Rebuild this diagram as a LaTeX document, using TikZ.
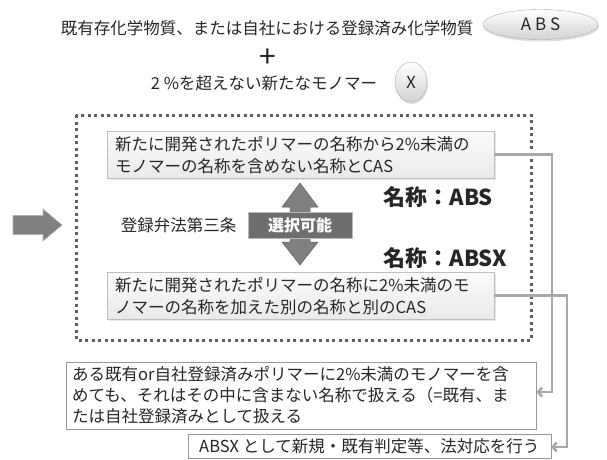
\documentclass[tikz,border=0pt]{standalone}
\usepackage{fontspec}
\setmainfont{Noto Sans CJK JP}
\usetikzlibrary{arrows.meta,shadows,calc,shapes.geometric}
\definecolor{txt}{HTML}{262626}
\definecolor{dotc}{HTML}{5F5F5F}
\definecolor{arrg}{HTML}{808080}
\definecolor{selg}{HTML}{6E6E6E}
\definecolor{conng}{HTML}{A8A8A8}
\begin{document}
\begin{tikzpicture}[x=1pt,y=-1pt,
  every node/.style={text=txt, font=\fontsize{16.5}{22}\selectfont},
  ovalnode/.style={ellipse, draw=gray!65, top color=white, bottom color=gray!35,
    drop shadow={opacity=0.25, shadow xshift=1pt, shadow yshift=-2pt}, inner sep=0pt},
  gbox/.style={draw=gray!50, top color=gray!3, bottom color=gray!17,
    drop shadow={opacity=0.2, shadow xshift=1.5pt, shadow yshift=-1.5pt},
    anchor=north west, minimum width=387pt, minimum height=47pt,
    text width=371pt, inner xsep=8pt, inner ysep=2pt, align=left},
  wbox/.style={draw=gray!80, fill=white, align=left, inner xsep=6pt, inner ysep=2pt},
  conn/.style={draw=conng, line width=2.5pt, -{Straight Barb[length=4pt,width=9pt]}},
  namestyle/.style={anchor=west, font=\fontsize{22}{24}\selectfont\bfseries},
]
\useasboundingbox (0,0) rectangle (607,459);

% top lines
\node (t1) at (267,28) {既有存化学物質、または自社における登録済み化学物質};
\node[ovalnode, minimum width=115pt, minimum height=30pt] (abs) at (540.5,24.5) {\fontsize{17}{17}\selectfont A B S};
\node (plus) at (268,58) {\fontsize{30}{30}\selectfont +};
\node (t2) at (264,83) {2 \%を超えない新たなモノマー};
\node[ovalnode, minimum width=32pt, minimum height=40pt] (x) at (411,82) {X};

% dotted frame
\draw[dotc, line width=3pt, dash pattern=on 3pt off 3.5pt] (76,115) rectangle (531,340);

% left arrow
\filldraw[fill=arrg, draw=gray!60, line width=0.6pt]
  (13,215.5) -- (43,215.5) -- (43,209) -- (62,225) -- (43,241) -- (43,234.5) -- (13,234.5) -- cycle;

% boxes
\node[gbox] (b1) at (107,131) {新たに開発されたポリマーの名称から2\%未満の\\モノマーの名称を含めない名称とCAS};
\node[gbox] (b2) at (107,272) {新たに開発されたポリマーの名称に2\%未満のモ\\ノマーの名称を加えた別の名称と別のCAS};

% double arrow
\filldraw[fill=arrg, draw=gray!75!black, line width=0.5pt]
  (300,183) -- (318,207) -- (310,207) -- (310,242) -- (318,242) -- (300,265)
  -- (282,242) -- (290,242) -- (290,207) -- (282,207) -- cycle;
\node[fill=selg, draw=gray!55, line width=0.8pt, minimum width=104pt, minimum height=26pt, inner sep=0pt,
  font=\fontsize{16}{16}\selectfont\bfseries, text=white] (sel) at (300,225) {選択可能};
\node[anchor=east] (law) at (240,225) {登録弁法第三条};

\node[namestyle] (n1) at (380,197) {名称：ABS};
\node[namestyle] (n2) at (380,258) {名称：ABSX};

% bottom boxes
\node[wbox, anchor=north west, text width=458pt, minimum height=67pt, font=\fontsize{16.5}{21}\selectfont] (lb) at (66,362)
  {ある既有or自社登録済みポリマーに2\%未満のモノマーを含\\めても、それはその中に含まない名称で扱える（=既有、ま\\たは自社登録済みとして扱える};
\node[wbox, anchor=north east, minimum width=363pt, minimum height=24pt, inner ysep=0pt] (bb) at (551,434)
  {ABSX として新規・既有判定等、法対応を行う};

% connectors
\coordinate (c1) at (552,392);
\coordinate (c2) at (567,447);
\draw[conn] (b1.east) -| (c1) -- (lb.east |- c1);
\draw[conn] (b2.east) -| (c2) -- (bb.east |- c2);
\end{tikzpicture}
\end{document}
